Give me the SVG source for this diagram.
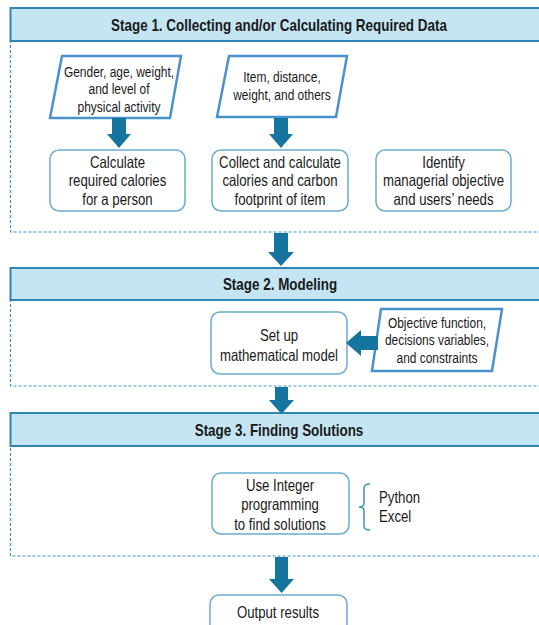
<svg xmlns="http://www.w3.org/2000/svg" width="539" height="625" viewBox="0 0 539 625">
<style>
.hdr{fill:#c4e5f1;stroke:#2f86b2;stroke-width:2}
.dash{fill:none;stroke:#3f93c2;stroke-width:1.2;stroke-dasharray:3 2}
.box{fill:#fff;stroke:#6aaed0;stroke-width:1.5}
.para{fill:#fff;stroke:#4a92cf;stroke-width:2.5}
.arr{fill:#16759e}
text{font-family:"Liberation Sans",Arial,sans-serif;fill:#1a1a1a;text-anchor:middle}
.h{font-size:16px;font-weight:bold}
.b{font-size:16.5px}
.p{font-size:15.5px}
.brace{fill:none;stroke:#3f93c2;stroke-width:1.5}
</style>
<rect width="539" height="625" fill="#fff"/>

<g id="stage1">
<rect class="dash" x="10.5" y="41" width="540" height="191"/>
<rect class="hdr" x="10.5" y="8" width="540" height="33"/>
<text class="h" transform="translate(279 30.5) scale(0.84 1)">Stage 1. Collecting and/or Calculating Required Data</text>
</g>
<g id="stage2">
<rect class="dash" x="10.5" y="300" width="540" height="86"/>
<rect class="hdr" x="10.5" y="268" width="540" height="32"/>
<text class="h" transform="translate(280 289.5) scale(0.84 1)">Stage 2. Modeling</text>
</g>
<g id="stage3">
<rect class="dash" x="10.5" y="446" width="540" height="110"/>
<rect class="hdr" x="10.5" y="413" width="540" height="33"/>
<text class="h" transform="translate(279 435.5) scale(0.84 1)">Stage 3. Finding Solutions</text>
</g>

<g id="input1">
<polygon class="para" points="62,56 181,56 170,118 50,118"/>
<text class="p" transform="translate(119 76.5) scale(0.77 1)">Gender, age, weight,</text>
<text class="p" transform="translate(119 93.5) scale(0.77 1)">and level of</text>
<text class="p" transform="translate(119 111.5) scale(0.77 1)">physical activity</text>
</g>
<g id="input2">
<polygon class="para" points="229,56 347,56 336,117 217,117"/>
<text class="p" transform="translate(282 81.5) scale(0.77 1)">Item, distance,</text>
<text class="p" transform="translate(282 99.5) scale(0.77 1)">weight, and others</text>
</g>
<g id="calc1">
<rect class="box" x="50" y="150" width="135" height="61" rx="9"/>
<text class="b" transform="translate(117.5 167.5) scale(0.8 1)">Calculate</text>
<text class="b" transform="translate(117.5 186) scale(0.8 1)">required calories</text>
<text class="b" transform="translate(117.5 204.5) scale(0.8 1)">for a person</text>
</g>
<g id="calc2">
<rect class="box" x="212" y="150" width="136" height="61" rx="9"/>
<text class="b" transform="translate(280 167.5) scale(0.8 1)">Collect and calculate</text>
<text class="b" transform="translate(280 186) scale(0.8 1)">calories and carbon</text>
<text class="b" transform="translate(280 204.5) scale(0.8 1)">footprint of item</text>
</g>
<g id="identify">
<rect class="box" x="376" y="150" width="135" height="61" rx="9"/>
<text class="b" transform="translate(443.5 167.5) scale(0.8 1)">Identify</text>
<text class="b" transform="translate(443.5 186) scale(0.8 1)">managerial objective</text>
<text class="b" transform="translate(443.5 204.5) scale(0.8 1)">and users’ needs</text>
</g>
<g id="setup">
<rect class="box" x="211" y="312" width="136" height="62" rx="9"/>
<text class="b" transform="translate(279 340.5) scale(0.8 1)">Set up</text>
<text class="b" transform="translate(279 360.5) scale(0.8 1)">mathematical model</text>
</g>
<g id="input3">
<polygon class="para" points="381,309 502,309 492,371 372,371"/>
<text class="p" transform="translate(437 327.5) scale(0.77 1)">Objective function,</text>
<text class="p" transform="translate(437 344.5) scale(0.77 1)">decisions variables,</text>
<text class="p" transform="translate(437 362.5) scale(0.77 1)">and constraints</text>
</g>
<g id="integer">
<rect class="box" x="212" y="473" width="137" height="61" rx="9"/>
<text class="b" transform="translate(280 490.5) scale(0.8 1)">Use Integer</text>
<text class="b" transform="translate(280 510) scale(0.8 1)">programming</text>
<text class="b" transform="translate(280 529.5) scale(0.8 1)">to find solutions</text>
</g>
<g id="tools">
<path class="brace" d="M370,484 Q364,484 364,488 L364,503 Q364,507 359,507 Q364,507 364,511 L364,526 Q364,530 370,530"/>
<text class="b" style="text-anchor:start" transform="translate(379 502.5) scale(0.8 1)">Python</text>
<text class="b" style="text-anchor:start" transform="translate(379 521.5) scale(0.8 1)">Excel</text>
</g>
<g id="output">
<rect class="box" x="210" y="595" width="137" height="40" rx="9"/>
<text class="b" transform="translate(278 617.5) scale(0.8 1)">Output results</text>
</g>

<g id="connectors">
<polygon class="arr" points="112,118 126,118 126,134 131,134 119,148 107,134 112,134"/>
<polygon class="arr" points="274,118 288,118 288,134 293,134 281,148 269,134 274,134"/>
<polygon class="arr" points="274,233 288,233 288,252 294,252 281,266 268,252 274,252"/>
<polygon class="arr" points="378,336 378,350 361,350 361,356 346,343 361,330 361,336"/>
<polygon class="arr" points="275,387 288,387 288,400 294,400 281.5,414 269,400 275,400"/>
<polygon class="arr" points="275,557 288,557 288,579 294,579 281.5,593 269,579 275,579"/>
</g>
</svg>
